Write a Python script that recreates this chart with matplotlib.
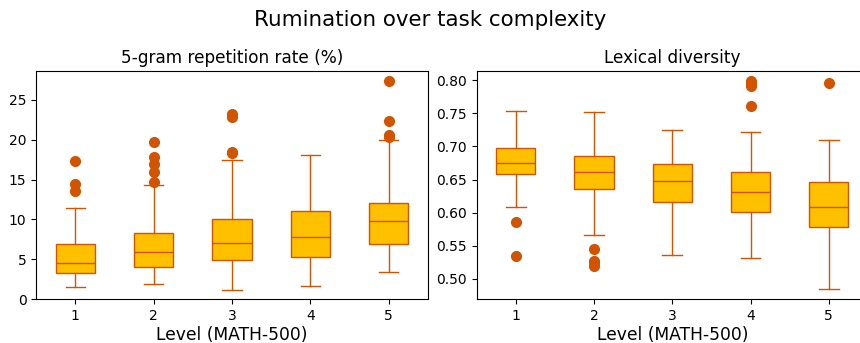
import numpy as np
import matplotlib
matplotlib.use("Agg")
import matplotlib.pyplot as plt

levels = [1, 2, 3, 4, 5]

# 5-gram repetition rate (%)
rep_whislo = [1.5, 1.9, 1.2, 1.7, 3.4]
rep_q1 = [3.3, 4.0, 4.9, 5.3, 6.9]
rep_med = [4.5, 5.9, 7.1, 7.8, 9.8]
rep_q3 = [6.9, 8.3, 10.1, 11.1, 12.1]
rep_whishi = [11.4, 14.3, 17.5, 18.1, 20.0]
rep_fliers = [
    [13.6, 14.5, 17.3],
    [14.7, 16.0, 17.0, 17.8, 19.7],
    [18.3, 18.5, 22.9, 23.2],
    [],
    [20.3, 20.6, 22.4, 27.3],
]

# lexical diversity
lex_whislo = [0.608, 0.567, 0.536, 0.531, 0.485]
lex_q1 = [0.658, 0.636, 0.616, 0.601, 0.579]
lex_med = [0.675, 0.662, 0.648, 0.631, 0.609]
lex_q3 = [0.697, 0.686, 0.673, 0.662, 0.647]
lex_whishi = [0.753, 0.752, 0.725, 0.722, 0.710]
lex_fliers = [
    [0.535, 0.586],
    [0.520, 0.524, 0.527, 0.545],
    [],
    [0.761, 0.791, 0.795, 0.798],
    [0.796],
]

edge = '#D35400'
fill = '#FFC000'


def make_stats(lo, q1, med, q3, hi, fl):
    stats = []
    for i in range(len(levels)):
        stats.append(dict(whislo=lo[i], q1=q1[i], med=med[i], q3=q3[i],
                          whishi=hi[i], fliers=fl[i], label=str(levels[i])))
    return stats


def draw(ax, stats, title):
    ax.bxp(stats, positions=levels, widths=0.5, patch_artist=True,
           boxprops=dict(facecolor=fill, edgecolor=edge, linewidth=1),
           medianprops=dict(color=edge, linewidth=1),
           whiskerprops=dict(color=edge, linewidth=1),
           capprops=dict(color=edge, linewidth=1),
           flierprops=dict(marker='o', markerfacecolor=edge, markeredgecolor=edge,
                           markersize=7, linestyle='none'))
    ax.set_title(title, fontsize=12.2)
    ax.set_xlabel("Level (MATH-500)", fontsize=12.3, labelpad=2)


fig = plt.figure(figsize=(8.6, 3.43), dpi=100)
ax1 = fig.add_axes([0.0421, 0.1274, 0.4553, 0.6656])
ax2 = fig.add_axes([0.5542, 0.1274, 0.4550, 0.6656])

draw(ax1, make_stats(rep_whislo, rep_q1, rep_med, rep_q3, rep_whishi, rep_fliers),
     "5-gram repetition rate (%)")
ax1.set_ylim(bottom=0)
draw(ax2, make_stats(lex_whislo, lex_q1, lex_med, lex_q3, lex_whishi, lex_fliers),
     "Lexical diversity")

fig.suptitle("Rumination over task complexity", fontsize=15.4, y=0.942, va='center')
fig.savefig("out.png", dpi=100)
